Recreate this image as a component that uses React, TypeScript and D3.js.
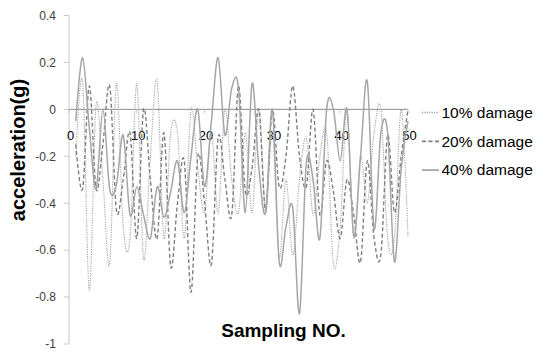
import React from "react";
import * as d3 from "d3";

const sampleNo: number[] = d3.range(1, 51);
const seriesNames = ["10% damage", "20% damage", "40% damage"];
const damage10: number[] = [
  -0.2, 0.12, -0.77, 0.02, -0.3, -0.66, 0.11, -0.5, -0.55, 0.11,
  -0.64, -0.2, 0.12, -0.55, -0.1, -0.1, -0.55, 0.0, -0.25, -0.44,
  -0.1, -0.44, 0.0, -0.3, -0.44, -0.1, -0.44, 0.0, -0.44, -0.1,
  -0.63, -0.3, -0.62, -0.3, -0.12, -0.45, -0.2, -0.1, -0.66, -0.5,
  0.0, -0.55, -0.2, -0.4, -0.1, 0.0, -0.55, -0.55, 0.0, -0.54,
];
const damage20: number[] = [
  -0.15, -0.34, 0.1, -0.34, -0.15, 0.1, -0.43, -0.3, -0.1, -0.55,
  0.0, -0.3, -0.55, -0.1, -0.67, -0.4, -0.22, -0.78, -0.2, -0.4,
  -0.66, -0.12, -0.3, -0.45, 0.1, -0.35, -0.25, 0.0, -0.43, 0.0,
  -0.33, -0.2, 0.1, -0.2, -0.33, 0.0, -0.45, -0.22, -0.35, -0.55,
  -0.3, -0.45, -0.65, -0.22, -0.55, -0.62, -0.11, -0.44, -0.2, 0.0,
];
const damage40: number[] = [
  -0.05, 0.22, -0.08, -0.34, 0.0, -0.34, -0.32, -0.11, -0.45, -0.33,
  -0.45, -0.55, -0.33, -0.46, -0.35, -0.22, -0.44, -0.2, 0.0, -0.33,
  -0.05, 0.22, -0.11, 0.09, 0.09, -0.44, 0.11, -0.25, -0.44, 0.0,
  -0.65, -0.5, -0.42, -0.87, -0.23, -0.3, -0.55, 0.0, 0.0, -0.22,
  0.0, -0.54, -0.2, 0.12, -0.51, -0.1, -0.1, -0.65, -0.25, -0.05,
];
const xTicks: number[] = [0, 10, 20, 30, 40, 50];
const yTicks: number[] = [-1, -0.8, -0.6, -0.4, -0.2, 0, 0.2, 0.4];

const seriesData = [damage10, damage20, damage40];
const styles = [
  { stroke: "#a3a3a3", width: 1.1, dash: "1.2,1.2" },
  { stroke: "#7f7f7f", width: 1.4, dash: "4,2.5" },
  { stroke: "#a6a6a6", width: 1.5, dash: "" },
];

export default function App() {
  const x = d3.scaleLinear().domain([0, 50]).range([69, 408]);
  const y = d3.scaleLinear().domain([-1, 0.4]).range([344, 15.5]);
  const line = d3
    .line<number>()
    .x((_, i) => x(sampleNo[i]))
    .y((d) => y(d))
    .curve(d3.curveCardinal.tension(0));
  const fmt = (v: number) => {
    const r = Math.round(v * 10) / 10;
    return r === 0 ? "0" : String(r);
  };
  const font = "'Liberation Sans', Arial, sans-serif";
  return (
    <svg
      width={537}
      height={353}
      style={{ position: "absolute", left: 0, top: 0, background: "#fff" }}
      fontFamily={font}
    >
      <rect width={537} height={353} fill="#fff" />
      {/* y axis */}
      <line x1={x(0)} x2={x(0)} y1={y(0.4)} y2={y(-1)} stroke="#c8c8c8" strokeWidth={1} />
      {yTicks.map((t) => (
        <g key={t}>
          <line x1={x(0) - 5} x2={x(0)} y1={y(t)} y2={y(t)} stroke="#c8c8c8" />
          <text x={56} y={y(t) + 4.3} textAnchor="end" fontSize={12} fill="#404040">
            {fmt(t)}
          </text>
        </g>
      ))}
      {/* x axis */}
      <line x1={x(0)} x2={x(50)} y1={y(0)} y2={y(0)} stroke="#8c8c8c" strokeWidth={1} />
      {xTicks.map((t) => (
        <g key={t}>
          <line x1={x(t)} x2={x(t)} y1={y(0)} y2={y(0) + 4} stroke="#c8c8c8" />
          <text x={x(t) + 1.5} y={140} textAnchor="middle" fontSize={13} fill="#000">
            {t}
          </text>
        </g>
      ))}
      {/* series */}
      {seriesData.map((s, k) => (
        <path
          key={k}
          d={line(s) || ""}
          fill="none"
          stroke={styles[k].stroke}
          strokeWidth={styles[k].width}
          strokeDasharray={styles[k].dash || undefined}
        />
      ))}
      {/* titles */}
      <text
        transform={`translate(25,150) rotate(-90)`}
        textAnchor="middle"
        fontSize={20}
        fontWeight="bold"
        fill="#000"
      >
        acceleration(g)
      </text>
      <text x={283.5} y={336.5} textAnchor="middle" fontSize={19} fontWeight="bold" fill="#000">
        Sampling NO.
      </text>
      {/* legend */}
      {seriesNames.map((n, k) => {
        const ly = 112.5 + k * 28.8;
        return (
          <g key={n}>
            <line
              x1={422}
              x2={439}
              y1={ly}
              y2={ly}
              stroke={styles[k].stroke}
              strokeWidth={styles[k].width + 0.3}
              strokeDasharray={styles[k].dash || undefined}
            />
            <text x={441.5} y={ly + 5.3} fontSize={15.5} fill="#000">
              {n}
            </text>
          </g>
        );
      })}
    </svg>
  );
}
